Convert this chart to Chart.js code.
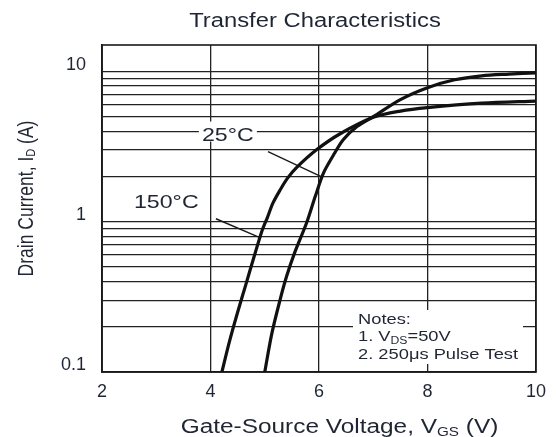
<!DOCTYPE html>
<html>
<head>
<meta charset="utf-8">
<script src="https://cdn.jsdelivr.net/npm/chart.js@4.4.1/dist/chart.umd.min.js"></script>
<style>
  html, body { margin: 0; padding: 0; background: #ffffff; }
  canvas { display: block; }
</style>
</head>
<body>
<canvas id="chart" width="556" height="437"></canvas>
<script>
// Transfer characteristics: drain current vs gate-source voltage at two junction temperatures
const vgs150 = [4.21, 4.35, 4.5, 4.65, 4.8, 4.95, 5.05, 5.15, 5.28, 5.42, 5.59, 5.96, 6.39, 7.0, 7.5, 8.0, 9.0, 10.0];
const id150  = [0.1, 0.16, 0.25, 0.38, 0.58, 0.87, 1.07, 1.33, 1.62, 1.95, 2.3, 3.02, 3.85, 4.95, 5.45, 5.75, 6.15, 6.35];
const vgs25  = [5.0, 5.13, 5.28, 5.4, 5.55, 5.77, 5.93, 6.08, 6.26, 6.45, 6.7, 7.0, 7.5, 8.0, 8.5, 9.0, 9.5, 10.0];
const id25   = [0.1, 0.18, 0.3, 0.43, 0.62, 0.98, 1.47, 2.1, 2.75, 3.52, 4.3, 5.0, 6.5, 7.8, 8.8, 9.35, 9.6, 9.8];

const xTickValues = [2, 4, 6, 8, 10];
const yGridValues = [0.1, 0.2, 0.3, 0.4, 0.5, 0.6, 0.7, 0.8, 0.9,
                     1, 2, 3, 4, 5, 6, 7, 8, 9, 10];
const yLabelValues = [0.1, 1, 10];

const FONT = '"Liberation Sans", Arial, Helvetica, sans-serif';
const TEXT = '#1f2533';
const STRETCH = 1.22;   // the lettering in this figure is set wide

function toPoints(xs, ys) {
  return xs.map((x, i) => ({ x: x, y: ys[i] }));
}

// Draw a sequence of text runs (for subscripts) with a horizontal stretch
function runsWidth(ctx, runs) {
  let w = 0;
  runs.forEach(r => { ctx.font = r.size + 'px ' + FONT; w += ctx.measureText(r.text).width; });
  return w;
}
function drawRuns(ctx, runs, align) {
  const w = runsWidth(ctx, runs);
  let cx = align === 'center' ? -w / 2 : (align === 'right' ? -w : 0);
  ctx.textAlign = 'left';
  ctx.textBaseline = 'alphabetic';
  runs.forEach(r => {
    ctx.font = r.size + 'px ' + FONT;
    ctx.fillText(r.text, cx, r.dy || 0);
    cx += ctx.measureText(r.text).width;
  });
}
function textAt(ctx, runs, x, y, align) {
  ctx.save();
  ctx.fillStyle = TEXT;
  ctx.translate(x, y);
  ctx.scale(STRETCH, 1);
  drawRuns(ctx, runs, align);
  ctx.restore();
}

const decorations = {
  id: 'decorations',
  beforeDatasetsDraw(chart) {
    const ctx = chart.ctx;
    const area = chart.chartArea;
    const xs = chart.scales.x, ys = chart.scales.y;
    const px = v => xs.getPixelForValue(v);
    const py = v => ys.getPixelForValue(v);

    ctx.save();
    // plot frame
    ctx.strokeStyle = '#1a1a1a';
    ctx.lineWidth = 1.6;
    ctx.strokeRect(area.left, area.top, area.right - area.left, area.bottom - area.top);

    // label "25°C" sits on a white patch over the grid
    const l25x = px(4.32), l25y = py(3.47);
    ctx.fillStyle = '#ffffff';
    ctx.fillRect(l25x - 29, l25y - 19, 58, 20);

    // notes panel
    const nx = area.right - 183, ny = area.bottom - 62;
    ctx.fillRect(nx, ny, 170, 54);

    // leader lines from the labels to their curves
    ctx.strokeStyle = '#1a1a1a';
    ctx.lineWidth = 1.4;
    ctx.beginPath();
    ctx.moveTo(px(5.06), py(2.93));
    ctx.lineTo(px(6.07), py(1.97));
    ctx.moveTo(px(4.10), py(1.047));
    ctx.lineTo(px(4.89), py(0.79));
    ctx.stroke();
    ctx.restore();

    // curve labels
    textAt(ctx, [{ text: '25°C', size: 19 }], l25x, l25y, 'center');
    textAt(ctx, [{ text: '150°C', size: 19 }], px(3.185), py(1.234), 'center');

    // notes text
    const tx = nx + 5;
    textAt(ctx, [{ text: 'Notes:', size: 15 }], tx, ny + 13.5, 'left');
    textAt(ctx, [{ text: '1. V', size: 15 }, { text: 'DS', size: 10, dy: 2.5 }, { text: '=50V', size: 15 }], tx, ny + 31, 'left');
    textAt(ctx, [{ text: '2. 250μs Pulse Test', size: 15 }], tx, ny + 48.5, 'left');

    // chart title
    textAt(ctx, [{ text: 'Transfer Characteristics', size: 19.5 }], 315, 27, 'center');

    // x-axis title
    textAt(ctx, [
      { text: 'Gate-Source Voltage, V', size: 20 },
      { text: 'GS', size: 12.5, dy: 2.5 },
      { text: ' (V)', size: 20 }
    ], 339.5, 433, 'center');

    // y-axis title (rotated)
    ctx.save();
    ctx.fillStyle = TEXT;
    ctx.translate(33, 198.5);
    ctx.scale(STRETCH, 1);
    ctx.rotate(-Math.PI / 2);
    drawRuns(ctx, [
      { text: 'Drain Current, I', size: 17.5 },
      { text: 'D', size: 11, dy: 2 },
      { text: ' (A)', size: 17.5 }
    ], 'center');
    ctx.restore();
  }
};

new Chart(document.getElementById('chart'), {
  type: 'line',
  data: {
    datasets: [
      {
        label: '25°C',
        data: toPoints(vgs25, id25),
        borderColor: '#111111',
        borderWidth: 3.2,
        pointRadius: 0,
        tension: 0.3,
        fill: false
      },
      {
        label: '150°C',
        data: toPoints(vgs150, id150),
        borderColor: '#111111',
        borderWidth: 3.2,
        pointRadius: 0,
        tension: 0.3,
        fill: false
      }
    ]
  },
  options: {
    responsive: false,
    animation: false,
    layout: { padding: { top: 45, right: 20, left: 0, bottom: 0 } },
    plugins: {
      legend: { display: false },
      tooltip: { enabled: false },
      title: { display: false }
    },
    scales: {
      x: {
        type: 'linear',
        min: 2,
        max: 10,
        afterBuildTicks: s => { s.ticks = xTickValues.map(v => ({ value: v })); },
        afterFit: s => { s.height = 65; },
        grid: { color: '#222222', lineWidth: 1.3, drawTicks: false },
        border: { display: true, color: '#1a1a1a', width: 1.6 },
        ticks: {
          color: TEXT,
          font: { family: FONT, size: 18 },
          padding: 9,
          maxRotation: 0,
          callback: v => String(v)
        }
      },
      y: {
        type: 'logarithmic',
        min: 0.1,
        max: 15,
        afterBuildTicks: s => { s.ticks = yGridValues.map(v => ({ value: v })); },
        afterFit: s => { s.width = 102; },
        grid: { color: '#222222', lineWidth: 1.3, drawTicks: false },
        border: { display: true, color: '#1a1a1a', width: 1.6 },
        ticks: {
          color: TEXT,
          font: { family: FONT, size: 18 },
          padding: 16,
          labelOffset: -6.5,
          autoSkip: false,
          callback: v => (yLabelValues.includes(v) ? String(v) : '')
        }
      }
    }
  },
  plugins: [decorations]
});
</script>
</body>
</html>
